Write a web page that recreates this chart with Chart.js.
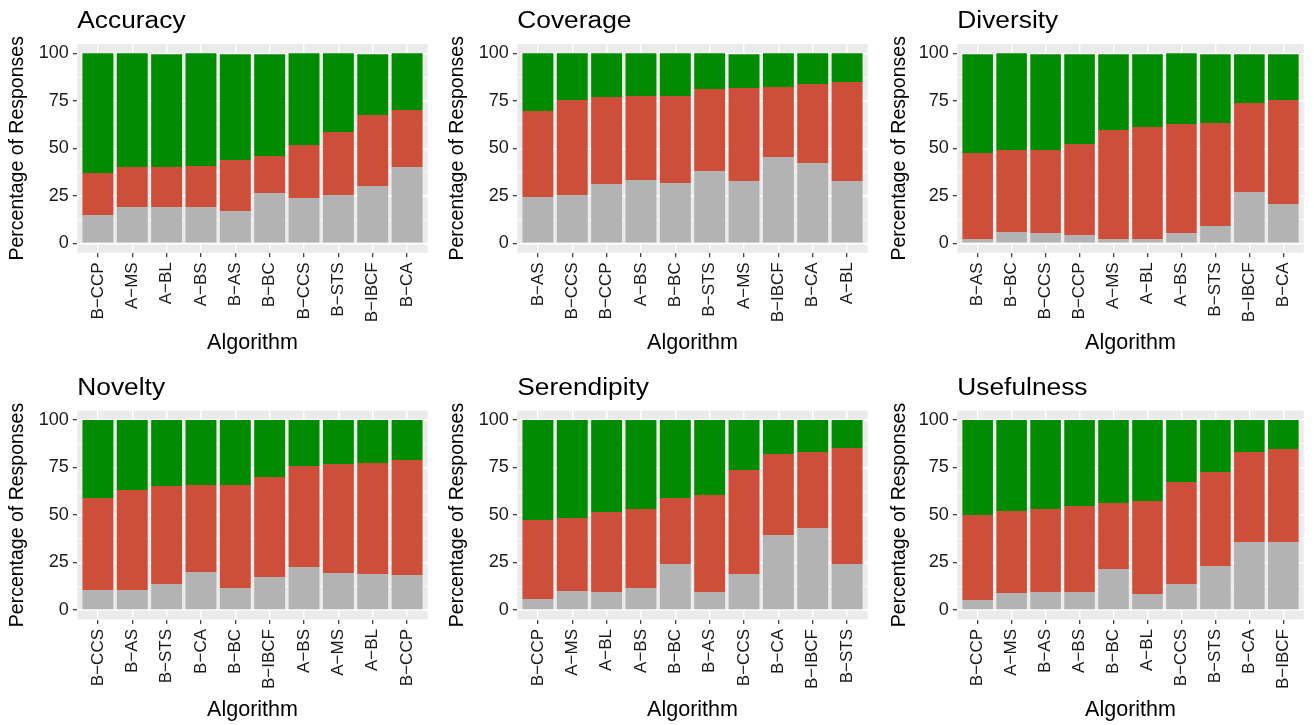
<!DOCTYPE html>
<html>
<head>
<meta charset="utf-8">
<script src="https://cdn.jsdelivr.net/npm/chart.js@4.4.1/dist/chart.umd.min.js"></script>
<style>
  html, body { margin: 0; padding: 0; background: #ffffff; width: 1314px; height: 725px; overflow: hidden; }
  canvas { position: absolute; }
</style>
</head>
<body>
<canvas id="c0"></canvas>
<canvas id="c1"></canvas>
<canvas id="c2"></canvas>
<canvas id="c3"></canvas>
<canvas id="c4"></canvas>
<canvas id="c5"></canvas>
<script>
// Percentages of responses per algorithm, split into three stacked segments
// (bottom = grey, middle = red, top = green).

const accuracyLabels = ['B−CCP', 'A−MS', 'A−BL', 'A−BS', 'B−AS', 'B−BC', 'B−CCS', 'B−STS', 'B−IBCF', 'B−CA'];
const accuracyLow  = [14.9, 19.1, 19.1, 19.1, 17.0, 26.5, 23.9, 25.4, 30.2, 40.2];
const accuracyMid  = [22.1, 21.1, 21.1, 21.6, 26.9, 19.5, 27.9, 33.2, 37.3, 30.0];
const accuracyHigh = [63.0, 59.8, 59.3, 59.3, 55.6, 53.5, 48.2, 41.4, 32.0, 29.8];

const coverageLabels = ['B−AS', 'B−CCS', 'B−CCP', 'A−BS', 'B−BC', 'B−STS', 'A−MS', 'B−IBCF', 'B−CA', 'A−BL'];
const coverageLow  = [24.4, 25.4, 31.2, 33.3, 31.8, 38.1, 32.8, 45.4, 42.3, 32.8];
const coverageMid  = [45.2, 50.0, 45.8, 44.2, 45.7, 43.1, 49.0, 36.9, 41.6, 52.1];
const coverageHigh = [30.4, 24.6, 23.0, 22.5, 22.5, 18.8, 17.7, 17.7, 16.1, 15.1];

const diversityLabels = ['B−AS', 'B−BC', 'B−CCS', 'B−CCP', 'A−MS', 'A−BL', 'A−BS', 'B−STS', 'B−IBCF', 'B−CA'];
const diversityLow  = [2.3, 6.0, 5.4, 4.4, 2.3, 2.3, 5.4, 9.1, 27.0, 20.7];
const diversityMid  = [45.2, 43.1, 43.7, 47.9, 57.3, 58.9, 57.4, 54.2, 46.9, 54.7];
const diversityHigh = [52.0, 50.9, 50.4, 47.2, 39.9, 38.3, 37.2, 36.2, 25.6, 24.1];

const noveltyLabels = ['B−CCS', 'B−AS', 'B−STS', 'B−CA', 'B−BC', 'B−IBCF', 'A−BS', 'A−MS', 'A−BL', 'B−CCP'];
const noveltyLow  = [10.5, 10.5, 13.7, 20.0, 11.6, 17.4, 22.6, 19.5, 18.9, 18.4];
const noveltyMid  = [48.4, 52.7, 51.6, 45.8, 54.2, 52.6, 53.2, 57.3, 58.5, 60.5];
const noveltyHigh = [41.1, 36.8, 34.7, 34.2, 34.2, 30.0, 24.2, 23.2, 22.6, 21.1];

const serendipityLabels = ['B−CCP', 'A−MS', 'A−BL', 'A−BS', 'B−BC', 'B−AS', 'B−CCS', 'B−CA', 'B−IBCF', 'B−STS'];
const serendipityLow  = [5.8, 10.0, 9.5, 11.6, 24.2, 9.5, 18.9, 39.5, 43.2, 24.2];
const serendipityMid  = [41.6, 38.4, 42.1, 41.6, 34.7, 51.0, 54.8, 42.6, 40.0, 61.1];
const serendipityHigh = [52.6, 51.6, 48.4, 46.8, 41.1, 39.5, 26.3, 17.9, 16.8, 14.7];

const usefulnessLabels = ['B−CCP', 'A−MS', 'B−AS', 'A−BS', 'B−BC', 'A−BL', 'B−CCS', 'B−STS', 'B−CA', 'B−IBCF'];
const usefulnessLow  = [5.3, 8.9, 9.5, 9.5, 21.6, 8.4, 13.7, 23.2, 35.8, 35.8];
const usefulnessMid  = [44.7, 43.2, 43.7, 45.2, 34.7, 49.0, 53.7, 49.4, 47.4, 48.9];
const usefulnessHigh = [50.0, 47.9, 46.8, 45.3, 43.7, 42.6, 32.6, 27.4, 16.8, 15.3];

const yTickValues = [0, 25, 50, 75, 100];
const yMinorValues = [12.5, 37.5, 62.5, 87.5];

const panelTitles = ['Accuracy', 'Coverage', 'Diversity', 'Novelty', 'Serendipity', 'Usefulness'];
const panelLabels = [accuracyLabels, coverageLabels, diversityLabels, noveltyLabels, serendipityLabels, usefulnessLabels];
const panelLow  = [accuracyLow, coverageLow, diversityLow, noveltyLow, serendipityLow, usefulnessLow];
const panelMid  = [accuracyMid, coverageMid, diversityMid, noveltyMid, serendipityMid, usefulnessMid];
const panelHigh = [accuracyHigh, coverageHigh, diversityHigh, noveltyHigh, serendipityHigh, usefulnessHigh];

// Canvas placement and plotting-area margins for each facet.
const layouts = [
  { left: 0,   top: 0,   width: 438, height: 362, axisW: 77.3, padR: 10.3, padT: 43.8, axisH: 109.2, yTitleX: 18 },
  { left: 440, top: 0,   width: 436, height: 362, axisW: 77.3, padR: 8.3,  padT: 43.8, axisH: 109.2, yTitleX: 18 },
  { left: 876, top: 0,   width: 438, height: 362, axisW: 81.3, padR: 10.3, padT: 43.8, axisH: 109.2, yTitleX: 24 },
  { left: 0,   top: 362, width: 438, height: 363, axisW: 77.3, padR: 10.3, padT: 48.5, axisH: 105.5, yTitleX: 18 },
  { left: 440, top: 362, width: 436, height: 363, axisW: 77.3, padR: 8.3,  padT: 48.5, axisH: 105.5, yTitleX: 18 },
  { left: 876, top: 362, width: 438, height: 363, axisW: 81.3, padR: 10.3, padT: 48.5, axisH: 105.5, yTitleX: 24 }
];

const FONT = '"Liberation Sans", Arial, Helvetica, sans-serif';
const COLORS = { low: '#B3B3B3', mid: '#CD4F39', high: '#008B00' };
const TEXT = '#1A1A1A';

Chart.defaults.font.family = FONT;
Chart.defaults.animation = false;

// Grey panel background behind the grid.
const panelBackground = {
  id: 'panelBackground',
  beforeDraw(chart) {
    const { ctx, chartArea: a } = chart;
    ctx.save();
    ctx.fillStyle = '#EBEBEB';
    ctx.fillRect(a.left, a.top, a.right - a.left, a.bottom - a.top);
    ctx.restore();
  }
};

// Facet title plus x and y axis titles.
const facetText = {
  id: 'facetText',
  afterDraw(chart, args, opts) {
    const { ctx, chartArea: a } = chart;
    ctx.save();
    ctx.fillStyle = '#000000';
    ctx.textBaseline = 'alphabetic';

    // facet title, slightly wide set
    ctx.save();
    ctx.translate(a.left, a.top - 15.5);
    ctx.scale(1.12, 1);
    ctx.font = '23.5px ' + FONT;
    ctx.textAlign = 'left';
    ctx.fillText(opts.title, 0, 0);
    ctx.restore();

    ctx.font = '21.5px ' + FONT;
    ctx.textAlign = 'center';
    ctx.fillText('Algorithm', (a.left + a.right) / 2, a.bottom + 96.5);

    ctx.translate(opts.yTitleX, (a.top + a.bottom) / 2);
    ctx.rotate(-Math.PI / 2);
    ctx.font = '19.5px ' + FONT;
    ctx.textBaseline = 'middle';
    ctx.fillText('Percentage of Responses', 0, 0);
    ctx.restore();
  }
};

const isMajor = v => yTickValues.includes(v);

panelTitles.forEach((title, i) => {
  const L = layouts[i];
  const canvas = document.getElementById('c' + i);
  canvas.width = L.width;
  canvas.height = L.height;
  canvas.style.left = L.left + 'px';
  canvas.style.top = L.top + 'px';
  canvas.style.width = L.width + 'px';
  canvas.style.height = L.height + 'px';

  const labels = panelLabels[i];
  const toPoints = arr => arr.map((v, k) => ({ x: k, y: v }));

  new Chart(canvas, {
    type: 'bar',
    data: {
      datasets: [
        { label: 'lower',  data: toPoints(panelLow[i]),  backgroundColor: COLORS.low },
        { label: 'middle', data: toPoints(panelMid[i]),  backgroundColor: COLORS.mid },
        { label: 'upper',  data: toPoints(panelHigh[i]), backgroundColor: COLORS.high }
      ]
    },
    options: {
      responsive: false,
      devicePixelRatio: 1,
      animation: false,
      categoryPercentage: 1.0,
      barPercentage: 0.9,
      borderWidth: 0,
      layout: { padding: { left: 0, right: L.padR, top: L.padT, bottom: 0 } },
      plugins: {
        legend: { display: false },
        tooltip: { enabled: false },
        title: { display: false },
        facetText: { title: title, yTitleX: L.yTitleX }
      },
      scales: {
        x: {
          type: 'linear',
          stacked: true,
          min: -0.6,
          max: 9.6,
          offset: false,
          afterBuildTicks: s => { s.ticks = labels.map((_, k) => ({ value: k })); },
          afterFit: s => { s.height = L.axisH; },
          border: { display: false },
          grid: {
            offset: false,
            color: '#FFFFFF',
            lineWidth: 1.4,
            drawTicks: true,
            tickLength: 4.5,
            tickColor: '#333333',
            tickWidth: 1.2
          },
          ticks: {
            autoSkip: false,
            minRotation: 90,
            maxRotation: 90,
            padding: 5,
            color: TEXT,
            font: { size: 17, family: FONT },
            callback: v => labels[v] !== undefined ? labels[v] : ''
          }
        },
        y: {
          type: 'linear',
          stacked: true,
          min: -5,
          max: 105,
          afterBuildTicks: s => {
            s.ticks = yTickValues.concat(yMinorValues).sort((p, q) => p - q).map(v => ({ value: v }));
          },
          afterFit: s => { s.width = L.axisW; },
          border: { display: false },
          grid: {
            offset: false,
            color: '#FFFFFF',
            lineWidth: c => isMajor(c.tick.value) ? 1.4 : 0.7,
            drawTicks: true,
            tickLength: 4.5,
            tickColor: c => isMajor(c.tick.value) ? '#333333' : 'rgba(0,0,0,0)',
            tickWidth: 1.2
          },
          ticks: {
            padding: 4,
            color: TEXT,
            font: { size: 18, family: FONT },
            callback: v => isMajor(v) ? String(v) : ''
          }
        }
      }
    },
    plugins: [panelBackground, facetText]
  });
});
</script>
</body>
</html>
